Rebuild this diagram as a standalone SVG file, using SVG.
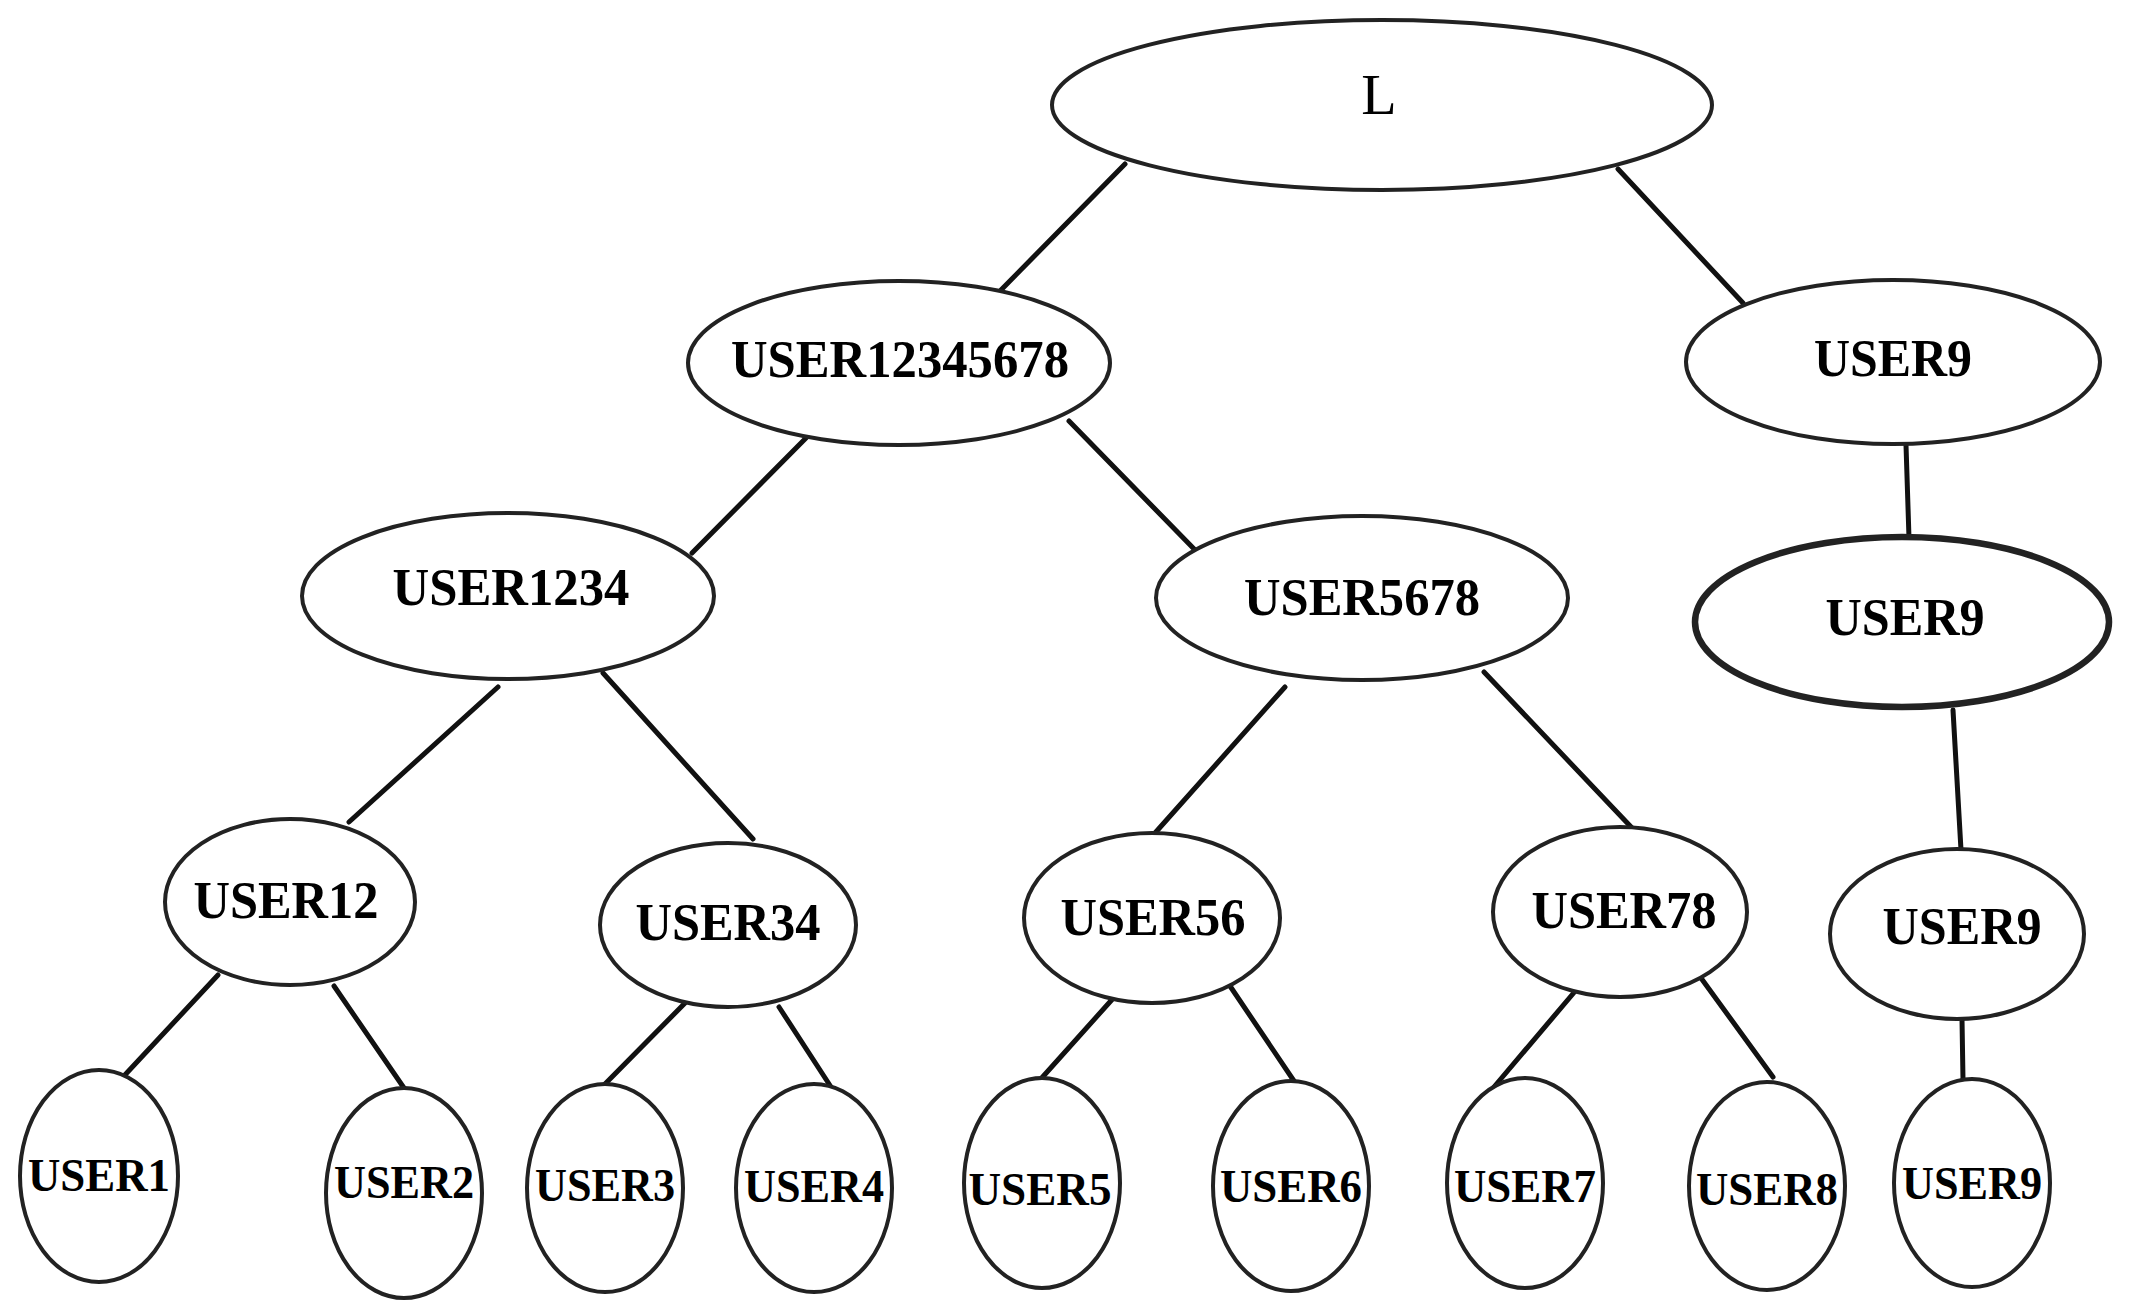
<svg xmlns="http://www.w3.org/2000/svg" width="2135" height="1314" viewBox="0 0 2135 1314">
<style>
.n{fill:#fff;stroke:#222;stroke-width:4}
.thick{stroke-width:6.5}
.t{font-family:"Liberation Serif","Times New Roman",serif;font-weight:bold;font-size:53px;fill:#000;text-anchor:middle}
.leaf{font-size:46px}
.root{font-weight:normal;font-size:58px}
.e{stroke:#111;stroke-width:5;stroke-linecap:round;fill:none}
</style>
<rect width="2135" height="1314" fill="#fff"/>
<g id="connectors">
<line class="e" x1="1125" y1="164" x2="1001" y2="290"/>
<line class="e" x1="1618" y1="169" x2="1743" y2="303"/>
<line class="e" x1="806" y1="438" x2="692" y2="553"/>
<line class="e" x1="1069" y1="421" x2="1198" y2="553"/>
<line class="e" x1="1906" y1="445" x2="1909" y2="538"/>
<line class="e" x1="1953" y1="710" x2="1961" y2="850"/>
<line class="e" x1="498" y1="687" x2="349" y2="822"/>
<line class="e" x1="603" y1="673" x2="753" y2="839"/>
<line class="e" x1="1285" y1="687" x2="1155" y2="833"/>
<line class="e" x1="1484" y1="672" x2="1633" y2="829"/>
<line class="e" x1="1962" y1="1019" x2="1963" y2="1080"/>
<line class="e" x1="218" y1="975" x2="123" y2="1077"/>
<line class="e" x1="334" y1="986" x2="404" y2="1088"/>
<line class="e" x1="688" y1="1000" x2="605" y2="1084"/>
<line class="e" x1="779" y1="1007" x2="831" y2="1087"/>
<line class="e" x1="1117" y1="994" x2="1039" y2="1081"/>
<line class="e" x1="1230" y1="986" x2="1294" y2="1081"/>
<line class="e" x1="1577" y1="989" x2="1494" y2="1087"/>
<line class="e" x1="1701" y1="978" x2="1773" y2="1077"/>
</g>
<g id="node-L"><ellipse class="n" cx="1382" cy="105" rx="330" ry="85"/><text class="t root" x="1379" y="114">L</text></g>
<g id="node-USER12345678"><ellipse class="n" cx="899" cy="363" rx="211" ry="82"/><text class="t" x="900" y="377" textLength="338" lengthAdjust="spacingAndGlyphs">USER12345678</text></g>
<g id="node-USER9-a"><ellipse class="n" cx="1893" cy="362" rx="207" ry="82"/><text class="t" x="1893" y="376" textLength="158" lengthAdjust="spacingAndGlyphs">USER9</text></g>
<g id="node-USER1234"><ellipse class="n" cx="508" cy="596" rx="206" ry="83"/><text class="t" x="511" y="605" textLength="237" lengthAdjust="spacingAndGlyphs">USER1234</text></g>
<g id="node-USER5678"><ellipse class="n" cx="1362" cy="598" rx="206" ry="82"/><text class="t" x="1362" y="615" textLength="236" lengthAdjust="spacingAndGlyphs">USER5678</text></g>
<g id="node-USER9-b"><ellipse class="n thick" cx="1902" cy="622" rx="207" ry="85"/><text class="t" x="1905" y="635" textLength="159" lengthAdjust="spacingAndGlyphs">USER9</text></g>
<g id="node-USER12"><ellipse class="n" cx="290" cy="902" rx="125" ry="83"/><text class="t" x="286" y="918" textLength="185" lengthAdjust="spacingAndGlyphs">USER12</text></g>
<g id="node-USER34"><ellipse class="n" cx="728" cy="925" rx="128" ry="82"/><text class="t" x="728" y="940" textLength="185" lengthAdjust="spacingAndGlyphs">USER34</text></g>
<g id="node-USER56"><ellipse class="n" cx="1152" cy="918" rx="128" ry="85"/><text class="t" x="1153" y="935" textLength="185" lengthAdjust="spacingAndGlyphs">USER56</text></g>
<g id="node-USER78"><ellipse class="n" cx="1620" cy="912" rx="127" ry="85"/><text class="t" x="1624" y="928" textLength="185" lengthAdjust="spacingAndGlyphs">USER78</text></g>
<g id="node-USER9-c"><ellipse class="n" cx="1957" cy="934" rx="127" ry="85"/><text class="t" x="1962" y="944" textLength="159" lengthAdjust="spacingAndGlyphs">USER9</text></g>
<g id="node-USER1"><ellipse class="n" cx="99" cy="1176" rx="79" ry="106"/><text class="t leaf" x="99" y="1191" textLength="142" lengthAdjust="spacingAndGlyphs">USER1</text></g>
<g id="node-USER2"><ellipse class="n" cx="404" cy="1193" rx="78" ry="105"/><text class="t leaf" x="404" y="1198" textLength="140" lengthAdjust="spacingAndGlyphs">USER2</text></g>
<g id="node-USER3"><ellipse class="n" cx="605" cy="1188" rx="78" ry="104"/><text class="t leaf" x="605" y="1201" textLength="140" lengthAdjust="spacingAndGlyphs">USER3</text></g>
<g id="node-USER4"><ellipse class="n" cx="814" cy="1188" rx="78" ry="104"/><text class="t leaf" x="814" y="1202" textLength="140" lengthAdjust="spacingAndGlyphs">USER4</text></g>
<g id="node-USER5"><ellipse class="n" cx="1042" cy="1183" rx="78" ry="105"/><text class="t leaf" x="1040" y="1205" textLength="143" lengthAdjust="spacingAndGlyphs">USER5</text></g>
<g id="node-USER6"><ellipse class="n" cx="1291" cy="1186" rx="78" ry="105"/><text class="t leaf" x="1291" y="1202" textLength="142" lengthAdjust="spacingAndGlyphs">USER6</text></g>
<g id="node-USER7"><ellipse class="n" cx="1525" cy="1183" rx="78" ry="105"/><text class="t leaf" x="1525" y="1202" textLength="142" lengthAdjust="spacingAndGlyphs">USER7</text></g>
<g id="node-USER8"><ellipse class="n" cx="1767" cy="1186" rx="78" ry="104"/><text class="t leaf" x="1767" y="1205" textLength="142" lengthAdjust="spacingAndGlyphs">USER8</text></g>
<g id="node-USER9-leaf"><ellipse class="n" cx="1972" cy="1183" rx="78" ry="104"/><text class="t leaf" x="1972" y="1199" textLength="140" lengthAdjust="spacingAndGlyphs">USER9</text></g>
</svg>
